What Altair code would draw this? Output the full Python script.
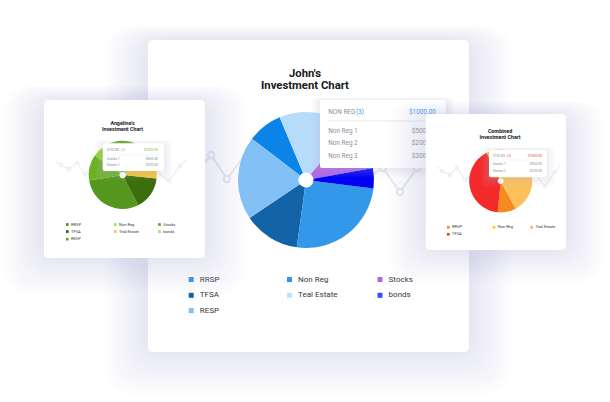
import math
import altair as alt
import pandas as pd

# ------------------------------------------------------------------ data
john_cats = ["RRSP", "TFSA", "RESP", "Non Reg", "Teal Estate", "Stocks", "bonds"]
john_vals = [8.3, 13.4, 19.8, 25.2, 17.4, 11.1, 4.8]
john_pie_order = ["Teal Estate", "Stocks", "bonds", "Non Reg", "TFSA", "RESP", "RRSP"]
john_legend_order = ["RRSP", "Non Reg", "Stocks", "TFSA", "Teal Estate", "bonds", "RESP"]

ang_cats = ["RRSP", "TFSA", "RESP", "Non Reg", "Teal Estate", "Stocks", "bonds"]
ang_vals = [30.0, 15.8, 12.2, 7.0, 8.6, 13.9, 12.5]
ang_pie_order = ["Stocks", "bonds", "Teal Estate", "TFSA", "RRSP", "RESP", "Non Reg"]
ang_legend_order = ["RRSP", "Non Reg", "Stocks", "TFSA", "Teal Estate", "bonds", "RESP"]

comb_cats = ["RRSP", "TFSA", "Non Reg", "Teal Estate"]
comb_vals = [9.4, 41.1, 15.7, 33.8]
comb_pie_order = ["Non Reg", "Teal Estate", "RRSP", "TFSA"]
comb_legend_order = ["RRSP", "Non Reg", "Teal Estate", "TFSA"]

john_title = ["John's", "Investment Chart"]
ang_title = ["Angelina's", "Investment Chart"]
comb_title = ["Combined", "Investment Chart"]

john_tip_head = ["NON REG", "(3)", "$1000.00"]
john_tip_rows = ["Non Reg 1", "Non Reg 2", "Non Reg 3"]
john_tip_vals = ["$500.00", "$200.00", "$300.00"]

ang_tip_head = ["STOCKS", "(2)", "$1000.00"]
ang_tip_rows = ["Stocks 1", "Stocks 2"]
ang_tip_vals = ["$500.00", "$200.00"]

comb_tip_head = ["STOCKS", "(2)", "$1000.00"]
comb_tip_rows = ["Stocks 1", "Stocks 2"]
comb_tip_vals = ["$500.00", "$200.00"]

# ------------------------------------------------------------------ styles
john_colors = ["#0a84e6", "#1363a8", "#82c0f5", "#3498e8", "#b7dcfa", "#b064e6", "#0000f5"]
john_legend_colors = ["#2e97ea", "#14609e", "#7ebff5", "#2e97ea", "#bfe0fb", "#b064e6", "#2f4fff"]
ang_colors = ["#55961f", "#3d6e0c", "#6cb025", "#8edc20", "#f8c534", "#62aa24", "#a4e06a"]
ang_legend_colors = ["#4b8a1f", "#2f5e08", "#5fa51c", "#8ef02a", "#f8c534", "#5aa52b", "#a4e06a"]
comb_colors = ["#f7891e", "#f42a2a", "#f8d000", "#fcc15a"]
comb_legend_colors = ["#f5871f", "#f03030", "#f5d010", "#f8c020"]

FONT = "Roboto"
W, H = 610, 402
XS = alt.Scale(domain=[0, W], nice=False, zero=False)
YS = alt.Scale(domain=[0, H], nice=False, zero=False, reverse=True)


def X(f):
    return alt.X(f, scale=XS, axis=None)


def Y(f):
    return alt.Y(f, scale=YS, axis=None)


def rects(rows, color, radius, opacity=1.0):
    df = pd.DataFrame(rows, columns=["x", "y", "x2", "y2"])
    return alt.Chart(df).mark_rect(cornerRadius=radius, color=color, opacity=opacity).encode(
        x=X("x:Q"), x2="x2:Q", y=Y("y:Q"), y2="y2:Q")


def glow(box, spread, n, op, color="#b3c3d9", top=0.5, bottom=1.1):
    x1, y1, x2, y2 = box
    rows = []
    for k in range(1, n + 1):
        s = spread * k / n
        rows.append((x1 - s, y1 - s * top, x2 + s, y2 + s * bottom))
    return rects(rows, color, radius=spread * 0.6, opacity=op)


def texts(items, size, color, align="left", weight="normal"):
    df = pd.DataFrame(items, columns=["x", "y", "t"])
    return alt.Chart(df).mark_text(align=align, baseline="middle", font=FONT, fontSize=size,
                                   fontWeight=weight, color=color).encode(
        x=X("x:Q"), y=Y("y:Q"), text="t:N")


def pie(cats, vals, order, colors, cx, cy, r, hole, start_deg):
    df = pd.DataFrame({"cat": cats, "v": vals})
    df["k"] = [order.index(c) for c in cats]
    s = math.radians(start_deg)
    return alt.Chart(df).mark_arc(x=cx, y=cy, outerRadius=r, innerRadius=hole).encode(
        theta=alt.Theta("v:Q", stack=True, scale=alt.Scale(range=[s, s + 2 * math.pi])),
        color=alt.Color("cat:N", scale=alt.Scale(domain=cats, range=colors), legend=None),
        order=alt.Order("k:Q"))


def legend(order, cats, colors, colx, rowy, sq, dx, size):
    df = pd.DataFrame({"cat": order})
    df["x"] = [colx[i % 3] for i in range(len(order))]
    df["y"] = [rowy[i // 3] for i in range(len(order))]
    df["lx"] = df["x"] + dx
    base = alt.Chart(df)
    squares = base.mark_square(size=sq, opacity=1).encode(
        x=X("x:Q"), y=Y("y:Q"),
        color=alt.Color("cat:N", scale=alt.Scale(domain=cats, range=colors), legend=None))
    labels = base.mark_text(align="left", baseline="middle", font=FONT, fontSize=size,
                            color="#333840").encode(x=X("lx:Q"), y=Y("y:Q"), text="cat:N")
    return [squares, labels]


def decor(points, color, width, size, stroke):
    rows = []
    for g, pts in enumerate(points):
        for i, (px, py, dot) in enumerate(pts):
            rows.append({"g": g, "i": i, "x": px, "y": py, "dot": dot})
    df = pd.DataFrame(rows)
    line = alt.Chart(df).mark_line(color=color, strokeWidth=width).encode(
        x=X("x:Q"), y=Y("y:Q"), detail="g:N", order="i:Q")
    dots = alt.Chart(df).transform_filter("datum.dot == 1").mark_point(
        shape="circle", filled=True, fill="white", stroke=color, strokeWidth=stroke,
        size=size, opacity=1).encode(x=X("x:Q"), y=Y("y:Q"))
    return [line, dots]


def tooltip(box, head, rows, vals, hx, cx, hy, sep, rys, hvx, vx, vals_align, size,
            accent, sep_w):
    x1, y1, x2, y2 = box
    out = [glow(box, 8, 6, 0.045, top=0.4, bottom=1.2), rects([box], "white", 2)]
    out.append(texts([(hx, hy, head[0])], size, "#8a909a"))
    out.append(texts([(cx, hy, head[1])], size, accent))
    out.append(texts([(hvx, hy, head[2])], size, accent, align=vals_align))
    sdf = pd.DataFrame({"x": [hx - 0.5], "x2": [x2 - (hx - x1)], "y": [sep]})
    out.append(alt.Chart(sdf).mark_rule(color="#e6eaf0", strokeWidth=sep_w).encode(
        x=X("x:Q"), x2="x2:Q", y=Y("y:Q")))
    out.append(texts([(hx, ry, r) for ry, r in zip(rys, rows)], size, "#8a909a"))
    out.append(texts([(vx, ry, v) for ry, v in zip(rys, vals)], size, "#8a909a", align=vals_align))
    return out


layers = []

# ---------------- main (John) card
main_box = (148, 40, 469, 352)
layers.append(glow(main_box, 42, 12, 0.026, top=0.35, bottom=1.0))
layers.append(rects([main_box], "white", 5))
layers += decor([[(200, 168, 0), (211, 155, 1), (227, 179, 1), (244, 156, 0)],
                 [(370, 176, 0), (383, 168, 1), (400, 192, 1), (417, 168, 1), (428, 158, 0)]],
                "#e6eaf0", 2, 40, 2)
layers.append(texts([(305, 74, john_title[0]), (305, 86, john_title[1])], 11.3, "#16181d",
                    align="center", weight="bold"))
layers.append(pie(john_cats, john_vals, john_pie_order, john_colors, 306, 180, 68, 7.5, 337.2))
layers += legend(john_legend_order, john_cats, john_legend_colors, [191.2, 289.5, 380],
                 [279.5, 295.3, 310.6], 25, 8.6, 8)
layers += tooltip((320, 100, 446, 168), john_tip_head, john_tip_rows, john_tip_vals,
                  328.3, 356, 112.3, 121, [130.7, 143.3, 156], 409, 411.7, "left", 6.4,
                  "#3399ee", 1)

# ---------------- Angelina card
ang_box = (44, 100, 205, 258)
layers.append(glow(ang_box, 40, 12, 0.026, top=0.35, bottom=0.9))
layers.append(rects([ang_box], "white", 4))
layers += decor([[(56, 162, 0), (61, 165, 1), (69, 169, 1), (77, 163, 1), (85, 174, 1), (93, 166, 0)],
                 [(155, 170, 0), (169, 181, 1), (180, 166, 1), (186, 160, 0)]],
                "#e3e8ef", 1, 9, 1)
layers.append(texts([(122.5, 123.3, ang_title[0]), (122.5, 129.3, ang_title[1])], 5.3, "#16181d",
                    align="center", weight="bold"))
layers.append(pie(ang_cats, ang_vals, ang_pie_order, ang_colors, 122.7, 175, 34, 3.3, 330))
layers += legend(ang_legend_order, ang_cats, ang_legend_colors, [67.3, 115.3, 159.5],
                 [224.5, 231.6, 239.2], 7, 3.8, 4)
layers += tooltip((102.7, 143.3, 164, 171), ang_tip_head, ang_tip_rows, ang_tip_vals,
                  106.7, 120.8, 150, 155, [159, 165], 158, 158, "right", 3.4, "#7cc242", 0.5)

# ---------------- Combined card
comb_box = (425.7, 114, 566, 250)
layers.append(glow(comb_box, 36, 12, 0.026, top=0.35, bottom=0.9))
layers.append(rects([comb_box], "white", 4))
layers += decor([[(437, 166, 0), (442, 171, 1), (450, 175, 1), (457, 168, 1), (465, 180, 1), (472, 172, 0)],
                 [(533, 172, 0), (545, 186, 1), (555, 172, 1), (560, 165, 0)]],
                "#e3e8ef", 1, 9, 1)
layers.append(texts([(500, 130.7, comb_title[0]), (500, 136.7, comb_title[1])], 5.3, "#16181d",
                    align="center", weight="bold"))
layers.append(pie(comb_cats, comb_vals, comb_pie_order, comb_colors, 500.7, 181, 31.5, 3, 333.4))
layers += legend(comb_legend_order, comb_cats, comb_legend_colors, [448.3, 494, 531.7],
                 [227.3, 234.3], 7, 3.8, 4)
layers += tooltip((489, 150, 546.7, 177.3), comb_tip_head, comb_tip_rows, comb_tip_vals,
                  492.7, 506.8, 155.7, 160, [164.3, 171], 542, 542, "right", 3.4, "#f04646", 0.5)

chart = alt.layer(*layers).resolve_scale(
    theta="independent", color="independent"
).properties(
    width=W, height=H, background="white", padding=0,
    autosize=alt.AutoSizeParams(type="none"),
).configure_view(stroke=None)

chart.save("out.html", embed_options={"renderer": "svg", "actions": False})
